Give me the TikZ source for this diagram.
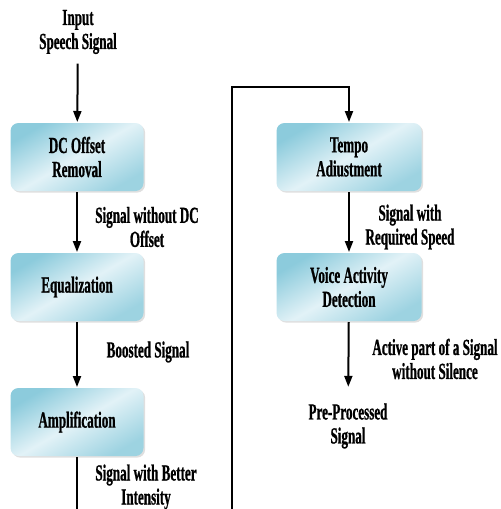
\documentclass[tikz,border=0pt]{standalone}
\usepackage{fontspec}
\setmainfont{Liberation Serif}[FakeStretch=0.57,BoldFeatures={FakeBold=0.8}]
\usetikzlibrary{arrows.meta,shadows}
\definecolor{boxdark}{HTML}{8CCBDC}
\definecolor{boxlight}{HTML}{E2F2F7}
\begin{document}
\begin{tikzpicture}[x=0.5pt,y=-0.5pt,line width=1pt,
    >={Triangle[length=5.5pt,width=4pt]},
    every node/.style={align=center,font=\bfseries\fontsize{11.5}{12}\selectfont},
    stage/.style={rectangle,rounded corners=4pt,minimum width=66.5pt,minimum height=34pt,
      top color=boxdark,bottom color=boxdark!85,middle color=boxlight,shading angle=30,
      drop shadow={shadow xshift=0.8pt,shadow yshift=-0.8pt,opacity=0.25}},
    wide/.style={minimum width=72.5pt}]
  \useasboundingbox (0,0) rectangle (500,509);
  \draw
    (78,32) node (0) {Input\\Speech Signal}
    (77,157) node[stage] (1) {DC Offset\\Removal}
    (77,287) node[stage] (2) {Equalization}
    (77,422) node[stage] (3) {Amplification}
    (349,157) node[stage,wide] (4) {Tempo\\Adiustment}
    (349,287) node[stage,wide] (5) {Voice Activity\\Detection}
    (348,426) node (6) {Pre-Processed\\Signal};
  \draw
    (147,227) node (l1) {Signal without DC\\Offset}
    (148,352) node (l2) {Boosted Signal}
    (146,487) node (l3) {Signal with Better\\Intensity}
    (410,227) node (l4) {Signal with\\Required Speed}
    (435,359) node (l5) {Active part of a Signal\\without Silence};
  \coordinate (a) at (77,509);
  \coordinate (b) at (232,509);
  \coordinate (d) at (349,87);
  \begin{scope}[->]
    \draw[shorten <=1pt] (0) -- (1);
    \draw (1) -- (2);
    \draw (2) -- (3);
    \draw[-] (3) -- (a);
    \draw (b) |- (d) -- (4);
    \draw (4) -- (5);
    \draw[shorten >=4.5pt] (5) -- (6);
  \end{scope}
\end{tikzpicture}
\end{document}
